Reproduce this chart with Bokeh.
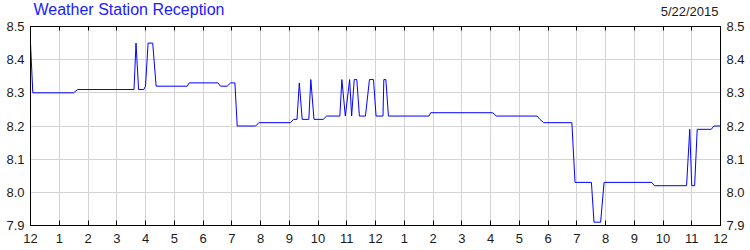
from bokeh.plotting import figure
from bokeh.models import LinearAxis, FixedTicker, Label, Range1d
from bokeh.layouts import column
from bokeh.embed import file_html
from bokeh.resources import INLINE

# ---- data (hours since midnight, signal value) ----
hours = [0.0, 0.08, 1.5, 1.64, 3.6, 3.67, 3.76, 3.94, 4.0, 4.09, 4.25, 4.37,
         5.45, 5.52, 6.52, 6.61, 6.84, 6.96, 7.11, 7.19, 7.83, 7.94, 9.04,
         9.15, 9.27, 9.35, 9.45, 9.68, 9.75, 9.86, 10.18, 10.3, 10.76, 10.83,
         10.95, 11.1, 11.17, 11.26, 11.35, 11.44, 11.65, 11.79, 11.93, 12.02,
         12.26, 12.29, 12.36, 12.45, 13.86, 13.92, 16.08, 16.2, 17.62, 17.72,
         17.85, 18.83, 18.94, 19.51, 19.6, 19.83, 19.95, 21.61, 21.7, 22.82,
         22.93, 23.0, 23.1, 23.19, 23.68, 23.77, 24.0]
values = [8.45, 8.30, 8.30, 8.31, 8.31, 8.45, 8.31, 8.31, 8.32, 8.45, 8.45, 8.32,
          8.32, 8.33, 8.33, 8.32, 8.32, 8.33, 8.33, 8.20, 8.20, 8.21, 8.21,
          8.22, 8.22, 8.33, 8.22, 8.22, 8.34, 8.22, 8.22, 8.23, 8.23, 8.34,
          8.23, 8.34, 8.23, 8.34, 8.34, 8.23, 8.23, 8.34, 8.34, 8.23,
          8.23, 8.34, 8.34, 8.23, 8.23, 8.24, 8.24, 8.23, 8.23, 8.22,
          8.21, 8.21, 8.03, 8.03, 7.91, 7.91, 8.03, 8.03, 8.02, 8.02,
          8.19, 8.02, 8.02, 8.19, 8.19, 8.20, 8.20]

x_ticks = list(range(0, 25))
x_labels = ["12", "1", "2", "3", "4", "5", "6", "7", "8", "9", "10", "11",
            "12", "1", "2", "3", "4", "5", "6", "7", "8", "9", "10", "11", "12"]
y_ticks = [7.9, 8.0, 8.1, 8.2, 8.3, 8.4, 8.5]
y_labels = ["7.9", "8.0", "8.1", "8.2", "8.3", "8.4", "8.5"]

title_text = "Weather Station Reception"
date_text = "5/22/2015"

FONT = "Liberation Sans"
HEADER_H = 18
FRAME_TOP = 26
FRAME_L, FRAME_R = 30, 720

# ---- header strip holding the title and the date (its frame is aligned to the chart's) ----
head = figure(width=750, height=HEADER_H, output_backend="svg", toolbar_location=None,
              x_range=Range1d(FRAME_L, FRAME_R), y_range=Range1d(HEADER_H, 0),
              x_axis_location=None, y_axis_location=None,
              min_border_left=0, min_border_right=0, min_border_top=0, min_border_bottom=0)
head.outline_line_color = None
head.grid.visible = False
head.background_fill_color = "white"
head.border_fill_color = "white"
head.add_layout(Label(x=33, y=0, text=title_text,
                      text_font=FONT, text_font_size="16px", text_color="#2020ff",
                      text_baseline="top", text_align="left"))
head.add_layout(Label(x=718, y=3, text=date_text,
                      text_font=FONT, text_font_size="13px", text_color="#1a1a1a",
                      text_baseline="top", text_align="right"))

# ---- main chart ----
p = figure(width=750, height=250 - HEADER_H, output_backend="svg", toolbar_location=None,
           x_range=Range1d(0, 24), y_range=Range1d(7.9, 8.5),
           x_axis_location=None, y_axis_location=None,
           min_border_left=FRAME_L, min_border_right=750 - FRAME_R,
           min_border_top=FRAME_TOP - HEADER_H, min_border_bottom=25)
p.background_fill_color = "white"
p.border_fill_color = "white"
p.outline_line_color = "black"
p.outline_line_width = 1

xt = FixedTicker(ticks=x_ticks)
yt = FixedTicker(ticks=y_ticks)

def style_axis(ax, labels=True):
    ax.axis_line_color = "black"
    ax.major_tick_line_color = "black"
    ax.minor_tick_line_color = None
    ax.major_label_text_font = FONT
    ax.major_label_text_font_size = "13px"
    ax.major_label_text_color = "#1a1a1a"
    if not labels:
        ax.major_label_text_font_size = "0px"

bottom = LinearAxis(ticker=xt, major_label_overrides={t: l for t, l in zip(x_ticks, x_labels)})
style_axis(bottom)
bottom.major_tick_in = 5
bottom.major_tick_out = 0
bottom.major_label_standoff = 8
p.add_layout(bottom, "below")

top = LinearAxis(ticker=xt, major_label_overrides={t: "" for t in x_ticks})
style_axis(top, labels=False)
top.major_tick_in = 4
top.major_tick_out = 0
top.major_label_standoff = 0
p.add_layout(top, "above")

left = LinearAxis(ticker=yt, major_label_overrides={t: l for t, l in zip(y_ticks, y_labels)})
style_axis(left)
left.major_tick_in = 0
left.major_tick_out = 0
left.major_label_standoff = 6
p.add_layout(left, "left")

right = LinearAxis(ticker=yt, major_label_overrides={t: l for t, l in zip(y_ticks, y_labels)})
style_axis(right)
right.major_tick_in = 0
right.major_tick_out = 0
right.major_label_standoff = 6
p.add_layout(right, "right")

p.xgrid.ticker = xt
p.ygrid.ticker = yt
p.xgrid.grid_line_color = "#d3d3d3"
p.ygrid.grid_line_color = "#d3d3d3"
p.grid.grid_line_width = 1

p.line(hours, values, line_color="#0000ff", line_width=1)

layout = column(head, p, spacing=0)
open("out.html", "w").write(file_html(layout, INLINE))
